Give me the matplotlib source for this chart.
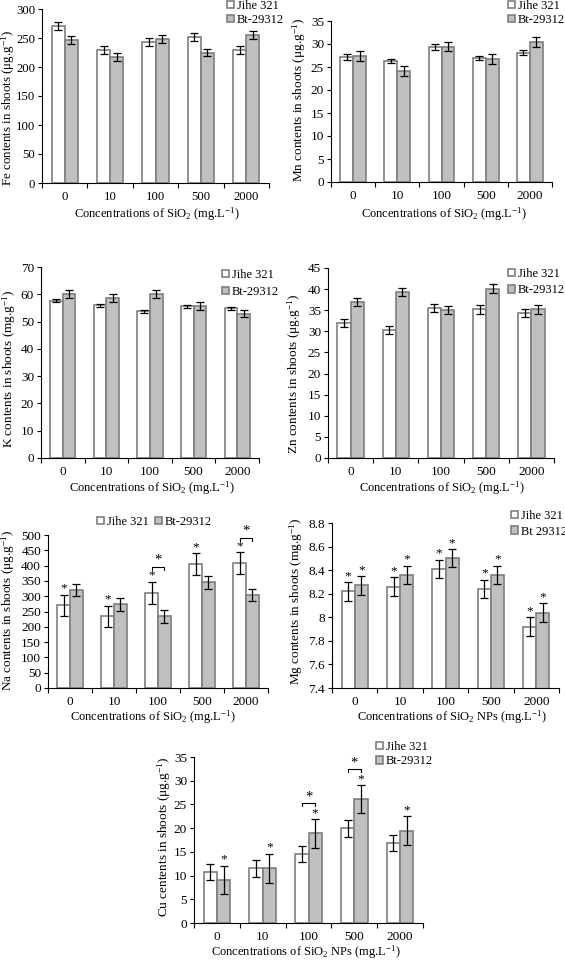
import numpy as np
import matplotlib
matplotlib.use('Agg')
import matplotlib.pyplot as plt

plt.rcParams['font.family'] = ['Liberation Serif', 'DejaVu Serif']
plt.rcParams['mathtext.fontset'] = 'custom'
plt.rcParams['mathtext.rm'] = 'Liberation Serif'
plt.rcParams['mathtext.it'] = 'Liberation Serif:italic'
plt.rcParams['font.size'] = 9.5

W, H = 565, 961

# ── Data ──────────────────────────────────────────────────────────────────────
conc = ['0', '10', '100', '500', '2000']

fe_jihe     = [270, 230, 243, 252, 229]
fe_jihe_err = [7, 7, 7, 7, 7]
fe_bt       = [247, 218, 248, 225, 255]
fe_bt_err   = [7, 7, 7, 6.5, 7]

mn_jihe     = [27.2, 26.3, 29.4, 27.0, 28.1]
mn_jihe_err = [0.6, 0.5, 0.6, 0.5, 0.5]
mn_bt       = [27.4, 24.1, 29.4, 26.8, 30.4]
mn_bt_err   = [1.1, 1.1, 1.0, 1.1, 1.1]

k_jihe      = [57.6, 56.0, 53.8, 55.6, 54.9]
k_jihe_err  = [0.5, 0.5, 0.6, 0.6, 0.6]
k_bt        = [60.2, 58.7, 60.0, 55.6, 52.9]
k_bt_err    = [1.5, 1.4, 1.5, 1.4, 1.4]

zn_jihe     = [32.0, 30.3, 35.5, 35.2, 34.4]
zn_jihe_err = [1.0, 1.0, 1.0, 1.0, 1.0]
zn_bt       = [37.0, 39.3, 35.1, 40.1, 35.2]
zn_bt_err   = [1.0, 1.0, 1.0, 1.0, 1.0]

na_jihe     = [270, 234, 312, 405, 408]
na_jihe_err = [35, 35, 36, 36, 35]
na_bt       = [321, 273, 234, 345, 303]
na_bt_err   = [20, 20, 20, 20, 20]

mg_jihe     = [8.22, 8.26, 8.41, 8.24, 7.92]
mg_jihe_err = [0.08, 0.08, 0.08, 0.08, 0.08]
mg_bt       = [8.27, 8.36, 8.50, 8.36, 8.04]
mg_bt_err   = [0.077, 0.077, 0.077, 0.077, 0.077]

cu_jihe     = [10.8, 11.5, 14.5, 20.0, 16.8]
cu_jihe_err = [1.7, 1.8, 1.7, 1.8, 1.7]
cu_bt       = [9.1, 11.5, 18.9, 26.1, 19.5]
cu_bt_err   = [3.0, 3.1, 3.0, 3.0, 3.0]

# significance marks (category indices)
na_star_jihe = [0, 1, 2, 3, 4]
na_bracket   = [2, 4]
mg_star_jihe = [0, 1, 2, 3, 4]
mg_star_bt   = [0, 1, 2, 3, 4]
cu_star_bt   = [0, 1, 2, 3, 4]
cu_bracket   = [2, 3]

BT_COLOR   = '#C0C0C0'
EDGE_COLOR = '#7F7F7F'
BAR_W      = 0.29

fig = plt.figure(figsize=(W / 100, H / 100), dpi=100)


def fx(px):
    return px / W


def fy(py):
    return 1 - py / H


def panel(box, jihe, jihe_err, bt, bt_err, ylim, ystep, ylabel, xlabel,
          ylab_xy, xlab_xy, bt_label='Bt-29312', tick_fs=9.5, ylab_fs=9.5):
    left, right, top, bottom = box
    ax = fig.add_axes([fx(left), fy(bottom), (right - left) / W, (bottom - top) / H])
    x = np.arange(len(conc))
    ekw = dict(ecolor='black', elinewidth=0.9, capsize=2.6, capthick=0.9)
    b1 = ax.bar(x - BAR_W / 2, jihe, BAR_W, color='white', edgecolor=EDGE_COLOR,
                linewidth=1.2, yerr=jihe_err, error_kw=ekw, label='Jihe 321')
    b2 = ax.bar(x + BAR_W / 2, bt, BAR_W, color=BT_COLOR, edgecolor=EDGE_COLOR,
                linewidth=1.2, yerr=bt_err, error_kw=ekw, label=bt_label)
    ax.set_xlim(-0.5, len(conc) - 0.5)
    ax.set_ylim(*ylim)
    ax.set_yticks(np.arange(ylim[0], ylim[1] + ystep / 2, ystep))
    ax.yaxis.set_major_formatter(plt.FuncFormatter(lambda v, p: f'{round(v, 2):g}'))
    ax.set_xticks(x)
    ax.set_xticklabels(conc)
    ax.set_xticks(np.arange(-0.5, len(conc)), minor=True)
    ax.tick_params(axis='x', which='major', length=0, pad=5.5, labelsize=tick_fs)
    ax.tick_params(axis='x', which='minor', length=3.5, direction='out', width=0.8)
    ax.tick_params(axis='y', length=3, direction='out', width=0.8, pad=2, labelsize=tick_fs)
    for s in ['top', 'right']:
        ax.spines[s].set_visible(False)
    for s in ['left', 'bottom']:
        ax.spines[s].set_linewidth(0.8)
    fig.text(fx(ylab_xy[0]), fy(ylab_xy[1]), ylabel, rotation=90, ha='center',
             va='center', fontsize=ylab_fs)
    fig.text(fx(xlab_xy[0]), fy(xlab_xy[1]), xlabel, ha='center', va='center', fontsize=9)
    return ax, (b1, b2)


def legend(ax, handles, x, y, spacing=0.15, ncol=1):
    ax.legend(handles, [h.get_label() for h in handles], loc='upper left',
              bbox_to_anchor=(fx(x), fy(y)), bbox_transform=fig.transFigure,
              frameon=False, fontsize=9, handlelength=0.58, handleheight=0.58,
              handletextpad=0.2, labelspacing=spacing, borderpad=0, borderaxespad=0,
              ncol=ncol, columnspacing=0.5)


def stars(ax, xs, vals, errs, idx):
    for i in idx:
        ax.annotate('*', xy=(xs[i], vals[i] + errs[i]), xytext=(0, 0),
                    textcoords='offset points', ha='center', va='bottom', fontsize=9.5)


def brackets(ax, jihe, jihe_err, bt, bt_err, idx):
    lo, hi = ax.get_ylim()
    rng = hi - lo
    for i in idx:
        top = max(jihe[i] + jihe_err[i], bt[i] + bt_err[i]) + 0.095 * rng
        xa, xb = i - BAR_W / 2, i + BAR_W / 2
        ax.plot([xa, xa, xb, xb], [top - 0.018 * rng, top, top, top - 0.018 * rng],
                color='black', lw=0.8, clip_on=False)
        ax.text((xa + xb) / 2, top, '*', ha='center', va='bottom', fontsize=10.5)


ug = '(μg.g$^{-1}$)'
mgg = '(mg.g$^{-1}$)'
xl = r'Concentrations of SiO$_2$ (mg.L$^{-1}$)'
xl_np = r'Concentrations of SiO$_2$ NPs (mg.L$^{-1}$)'
xs = np.arange(len(conc))

# ── Fe ────────────────────────────────────────────────────────────────────────
ax, h = panel((42, 269, 9, 183), fe_jihe, fe_jihe_err, fe_bt, fe_bt_err,
              (0, 300), 50, 'Fe contents in shoots ' + ug, xl,
              (7.9, 108), (157, 214), tick_fs=9.2, ylab_fs=9.4)
legend(ax, h, 227, 0)

# ── Mn ────────────────────────────────────────────────────────────────────────
ax, h = panel((331, 552, 21, 182), mn_jihe, mn_jihe_err, mn_bt, mn_bt_err,
              (0, 35), 5, 'Mn contents in shoots ' + ug, xl,
              (299, 100), (444, 214))
legend(ax, h, 508, 0)

# ── K ─────────────────────────────────────────────────────────────────────────
ax, h = panel((41, 259, 267, 458), k_jihe, k_jihe_err, k_bt, k_bt_err,
              (0, 70), 10, 'K contents in shoots ' + mgg, xl,
              (9, 369), (152, 488))
legend(ax, h, 222, 269, spacing=0.4)

# ── Zn ────────────────────────────────────────────────────────────────────────
ax, h = panel((328, 554, 268, 458), zn_jihe, zn_jihe_err, zn_bt, zn_bt_err,
              (0, 45), 5, 'Zn contents in shoots ' + ug, xl,
              (294, 374), (442, 488))
legend(ax, h, 508, 268, spacing=0.35)

# ── Na ────────────────────────────────────────────────────────────────────────
ax, h = panel((48, 268, 535, 688), na_jihe, na_jihe_err, na_bt, na_bt_err,
              (0, 500), 50, 'Na contents in shoots ' + ug, xl,
              (8.5, 610), (153, 717))
legend(ax, h, 97, 516, ncol=2)
stars(ax, xs - BAR_W / 2, na_jihe, na_jihe_err, na_star_jihe)
brackets(ax, na_jihe, na_jihe_err, na_bt, na_bt_err, na_bracket)

# ── Mg ────────────────────────────────────────────────────────────────────────
ax, h = panel((332, 559, 523, 688), mg_jihe, mg_jihe_err, mg_bt, mg_bt_err,
              (7.4, 8.8), 0.2, 'Mg contents in shoots ' + mgg, xl_np,
              (296, 601), (452, 717), bt_label='Bt 29312')
legend(ax, h, 511, 510, spacing=0.3)
stars(ax, xs - BAR_W / 2, mg_jihe, mg_jihe_err, mg_star_jihe)
stars(ax, xs + BAR_W / 2, mg_bt, mg_bt_err, mg_star_bt)

# ── Cu ────────────────────────────────────────────────────────────────────────
ax, h = panel((194, 423, 757, 923), cu_jihe, cu_jihe_err, cu_bt, cu_bt_err,
              (0, 35), 5, 'Cu centents in shoots ' + ug, xl_np,
              (164, 837), (306, 952))
legend(ax, h, 376, 741, spacing=0.2)
stars(ax, xs + BAR_W / 2, cu_bt, cu_bt_err, cu_star_bt)
brackets(ax, cu_jihe, cu_jihe_err, cu_bt, cu_bt_err, cu_bracket)

fig.savefig('out.png', dpi=100)
